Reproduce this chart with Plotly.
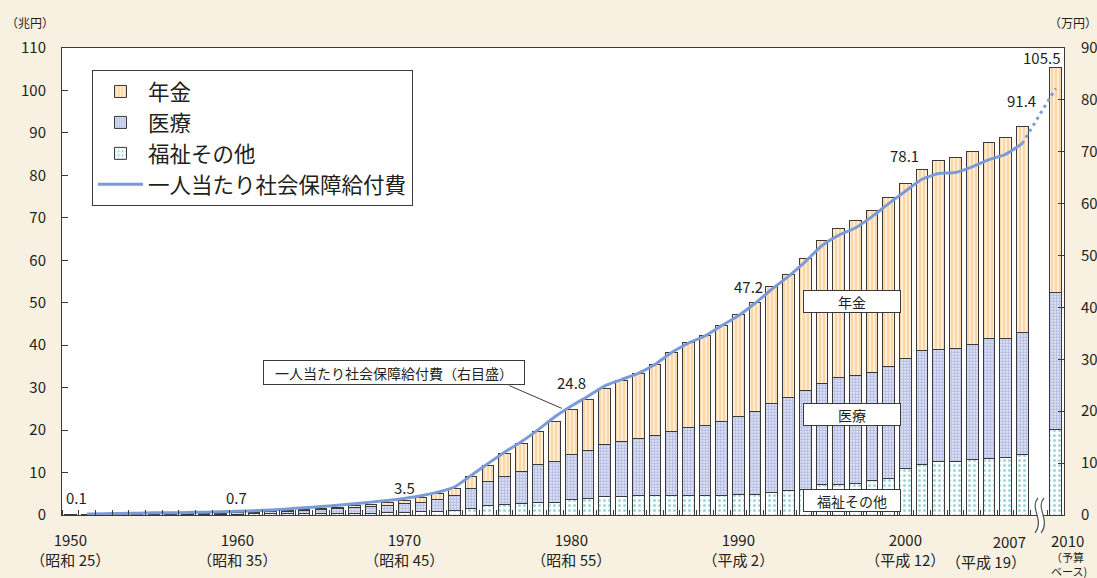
import plotly.graph_objects as go

# ---------------- data (兆円 / 万円) ----------------
years = list(range(1950, 2008)) + [2010]

pension = [0.00, 0.01, 0.03, 0.05, 0.07, 0.10, 0.11, 0.12, 0.13, 0.14,
           0.15, 0.17, 0.20, 0.24, 0.29, 0.35, 0.42, 0.50, 0.60, 0.71,
           0.86, 1.02, 1.24, 1.68, 2.68, 3.80, 5.34, 6.59, 7.93, 9.31,
           10.45, 12.0, 13.2, 14.3, 15.3, 16.8, 18.7, 20.0, 21.0, 22.6,
           24.0, 25.8, 27.5, 29.1, 31.1, 33.6, 35.1, 36.5, 38.3, 39.9,
           41.2, 42.6, 44.3, 44.9, 45.5, 46.2, 47.4, 48.3,
           53.2]

medical = [0.06, 0.08, 0.10, 0.12, 0.14, 0.19, 0.19, 0.21, 0.24, 0.26,
           0.29, 0.36, 0.45, 0.57, 0.71, 0.91, 1.07, 1.25, 1.44, 1.65,
           2.08, 2.25, 2.81, 3.43, 4.72, 5.71, 6.81, 7.63, 8.92, 9.77,
           10.73, 11.4, 12.3, 13.1, 13.6, 14.2, 15.0, 16.0, 16.6, 17.4,
           18.4, 19.4, 21.0, 21.8, 23.4, 23.9, 25.1, 25.3, 25.4, 26.4,
           25.9, 26.8, 26.4, 26.6, 27.2, 28.2, 28.1, 28.9,
           32.1]

welfare = [0.06, 0.07, 0.08, 0.08, 0.09, 0.10, 0.10, 0.11, 0.13, 0.17,
           0.21, 0.26, 0.27, 0.31, 0.35, 0.34, 0.38, 0.41, 0.47, 0.52,
           0.59, 0.76, 0.94, 1.16, 1.63, 2.25, 2.37, 2.67, 2.93, 2.90,
           3.59, 3.9, 4.3, 4.3, 4.5, 4.5, 4.6, 4.6, 4.6, 4.7,
           4.8, 4.9, 5.3, 5.8, 6.0, 7.1, 7.2, 7.5, 8.1, 8.5,
           10.9, 11.9, 12.7, 12.7, 13.0, 13.3, 13.5, 14.2,
           20.2]

# 一人当たり社会保障給付費 (万円)
per_capita = [None, 0.19, 0.26, 0.30, 0.35, 0.44, 0.44, 0.48, 0.55, 0.62,
              0.70, 0.84, 0.97, 1.17, 1.39, 1.63, 1.88, 2.16, 2.48, 2.80,
              3.2, 3.7, 4.4, 5.4, 7.6, 9.9, 12.1, 14.1, 16.4, 18.9,
              21.0, 22.9, 24.9, 26.1, 27.3, 29.0, 31.3, 33.1, 34.5, 36.5,
              38.4, 40.8, 43.5, 46.0, 48.8, 51.9, 53.9, 55.3, 57.5, 60.0,
              62.4, 64.7, 65.8, 66.0, 67.1, 68.5, 69.5, 71.6,
              82.2]

label_years = [1950, 1960, 1970, 1980, 1990, 2000, 2007, 2010]
label_texts = ["0.1", "0.7", "3.5", "24.8", "47.2", "78.1", "91.4", "105.5"]

tick_years = [1950, 1960, 1970, 1980, 1990, 2000]
tick_texts = ["1950<br>（昭和 25）", "1960<br>（昭和 35）", "1970<br>（昭和 45）",
              "1980<br>（昭和 55）", "1990<br>（平成 2）", "2000<br>（平成 12）"]

# ---------------- styling / layout helpers ----------------
W, H = 1097, 578
L, R, T, B = 62, 33, 48, 63
PW, PH = W - L - R, H - T - B
FONT = "Noto Sans CJK JP, Noto Sans, sans-serif"
TXT = "#231f20"
PAPER = "#f8f0e0"
EDGE = "#3a3a3a"


def slot(yr):
    # 2008-2009 are omitted (axis break); 2010 takes the slot after the gap
    return yr - 1950 if yr <= 2007 else 59


def xp(px):
    return (px - L) / PW


def yp(py):
    return (T + PH - py) / PH


xs = [slot(y) for y in years]
totals = [p + m + w for p, m, w in zip(pension, medical, welfare)]

fig = go.Figure()

fig.add_trace(go.Bar(
    x=xs, y=welfare, name="福祉その他", legendrank=3, width=0.7,
    marker=dict(color="white", line=dict(color=EDGE, width=1),
                pattern=dict(shape=".", fgcolor="#3fb0bb", bgcolor="white",
                             size=5, solidity=0.3)),
))
fig.add_trace(go.Bar(
    x=xs, y=medical, name="医療", legendrank=2, width=0.7,
    marker=dict(color="white", line=dict(color=EDGE, width=1),
                pattern=dict(shape=".", fgcolor="#7888cc", bgcolor="#f4f5fc",
                             size=3, solidity=0.7)),
))
fig.add_trace(go.Bar(
    x=xs, y=pension, name="年金", legendrank=1, width=0.7,
    marker=dict(color="white", line=dict(color=EDGE, width=1),
                pattern=dict(shape="|", fgcolor="#fbb868", bgcolor="#fff3e0",
                             size=4, solidity=0.6)),
))

# per-capita line: solid up to 2007, dotted to 2010
solid_x = [x for x, y in zip(xs, years) if y <= 2007]
solid_y = [v for v, y in zip(per_capita, years) if y <= 2007]
fig.add_trace(go.Scatter(
    x=solid_x, y=solid_y, yaxis="y2", mode="lines", name="一人当たり社会保障給付費",
    legendrank=4, line=dict(color="#7b9bd8", width=3, shape="spline", smoothing=0.6),
    connectgaps=False,
))
fig.add_trace(go.Scatter(
    x=[slot(2007), slot(2010)], y=[per_capita[-2], per_capita[-1]], yaxis="y2",
    mode="lines", showlegend=False,
    line=dict(color="#7b9bd8", width=3, dash="3px,4px"),
))

annotations = []
# value labels above bars
label_shift = {1950: (6, 17), 1960: (-1, 15), 1970: (0, 13), 1980: (0, 27),
               1990: (10, 28), 2000: (-1, 28), 2007: (-1, 26), 2010: (-14, 10)}
for yr, txt in zip(label_years, label_texts):
    dx, dy = label_shift[yr]
    annotations.append(dict(
        x=slot(yr), y=totals[years.index(yr)], xref="x", yref="y",
        text=txt, showarrow=False, xshift=dx, yshift=dy,
        xanchor="center", yanchor="middle", font=dict(size=15, color=TXT, family=FONT)))

# category boxes
for txt, yv in [("年金", 50.2), ("医療", 23.7), ("福祉その他", 3.3)]:
    annotations.append(dict(
        x=46.8, y=yv, xref="x", yref="y", text=txt, showarrow=False,
        bgcolor="white", bordercolor=EDGE, borderwidth=1, borderpad=1,
        width=94, height=19, font=dict(size=14, color=TXT, family=FONT)))

# line callout box + leader
annotations.append(dict(
    x=19.38, y=33.57, xref="x", yref="y", text="一人当たり社会保障給付費（右目盛）",
    showarrow=False, bgcolor="white", bordercolor=EDGE, borderwidth=1, borderpad=1,
    width=258, height=21, font=dict(size=14, color=TXT, family=FONT)))
annotations.append(dict(
    x=29.42, y=25.13, xref="x", yref="y", text="", showarrow=True,
    ax=-53.7, ay=-23.3, arrowhead=0, arrowwidth=1, arrowcolor=EDGE, standoff=0))

# x labels near the break
annotations += [
    dict(x=slot(2007), y=yp(530), xref="x", yref="paper", text="2007<br>（平成 19）",
         showarrow=False, xanchor="right", yanchor="top", align="right", xshift=5,
         borderpad=0, font=dict(size=15, color=TXT, family=FONT)),
    dict(x=slot(2010), y=yp(529), xref="x", yref="paper", text="2010",
         showarrow=False, xanchor="left", yanchor="top", xshift=-6,
         borderpad=0, font=dict(size=15, color=TXT, family=FONT)),
    dict(x=slot(2010), y=yp(548), xref="x", yref="paper", text="（予算<br>ベース)",
         showarrow=False, xanchor="left", yanchor="top", align="left", xshift=-6,
         borderpad=0, font=dict(size=11, color=TXT, family=FONT)),
]

# axis unit titles
annotations.append(dict(x=xp(4), y=yp(22), xref="paper", yref="paper", text="（兆円）",
                        showarrow=False, xanchor="left", yanchor="middle",
                        font=dict(size=12, color=TXT, family=FONT)))
annotations.append(dict(x=xp(1099), y=yp(22), xref="paper", yref="paper", text="（万円）",
                        showarrow=False, xanchor="right", yanchor="middle",
                        font=dict(size=12, color=TXT, family=FONT)))

# axis break symbol
def path_s(x0):
    return (f"M{xp(x0)},{yp(498)} C{xp(x0-9)},{yp(508)} {xp(x0+7)},{yp(520)} "
            f"{xp(x0-3)},{yp(533)}")

shapes = [
    dict(type="path", xref="paper", yref="paper",
         path=(f"M{xp(1038)},{yp(498)} C{xp(1029)},{yp(508)} {xp(1045)},{yp(520)} {xp(1035)},{yp(533)} "
               f"L{xp(1041)},{yp(533)} C{xp(1051)},{yp(520)} {xp(1035)},{yp(508)} {xp(1044)},{yp(498)} Z"),
         fillcolor="white", line=dict(width=0), layer="above"),
    dict(type="path", xref="paper", yref="paper", path=path_s(1038),
         line=dict(color="#555", width=1.2), layer="above"),
    dict(type="path", xref="paper", yref="paper", path=path_s(1044),
         line=dict(color="#555", width=1.2), layer="above"),
]

fig.update_layout(
    width=W, height=H, margin=dict(l=L, r=R, t=T, b=B, autoexpand=False),
    paper_bgcolor=PAPER, plot_bgcolor="white",
    barmode="stack", bargap=0.3,
    font=dict(family=FONT, size=15, color=TXT),
    showlegend=True,
    legend=dict(x=xp(92), y=yp(70), xanchor="left", yanchor="top",
                bgcolor="white", bordercolor=EDGE, borderwidth=1,
                font=dict(size=21.5, color=TXT, family=FONT),
                itemwidth=45, tracegroupgap=0, traceorder="normal"),
    xaxis=dict(range=[-0.5, 59.5], showline=True, linecolor=EDGE, linewidth=1,
               mirror=True, showgrid=False, zeroline=False, automargin=False,
               tickmode="array", tickvals=[slot(y) for y in tick_years], ticktext=tick_texts,
               ticks="", ticklabelstandoff=12,
               tickfont=dict(size=15, color=TXT, family=FONT),
               minor=dict(tickmode="linear", tick0=0.5, dtick=1, ticks="inside",
                          ticklen=5, tickcolor=EDGE, tickwidth=1, showgrid=False)),
    yaxis=dict(range=[0, 110], dtick=10, showline=True, linecolor=EDGE, linewidth=1,
               mirror=True, showgrid=False, zeroline=False, automargin=False,
               ticks="inside", ticklen=6, tickcolor=EDGE, ticklabelstandoff=12,
               tickfont=dict(size=15, color=TXT, family=FONT)),
    yaxis2=dict(range=[0, 90], dtick=10, overlaying="y", side="right", automargin=False,
                showline=False, showgrid=False, zeroline=False,
                ticks="inside", ticklen=6, tickcolor=EDGE, ticklabelstandoff=16,
                tickfont=dict(size=15, color=TXT, family=FONT)),
    annotations=annotations, shapes=shapes,
)

fig.write_html("out.html")
